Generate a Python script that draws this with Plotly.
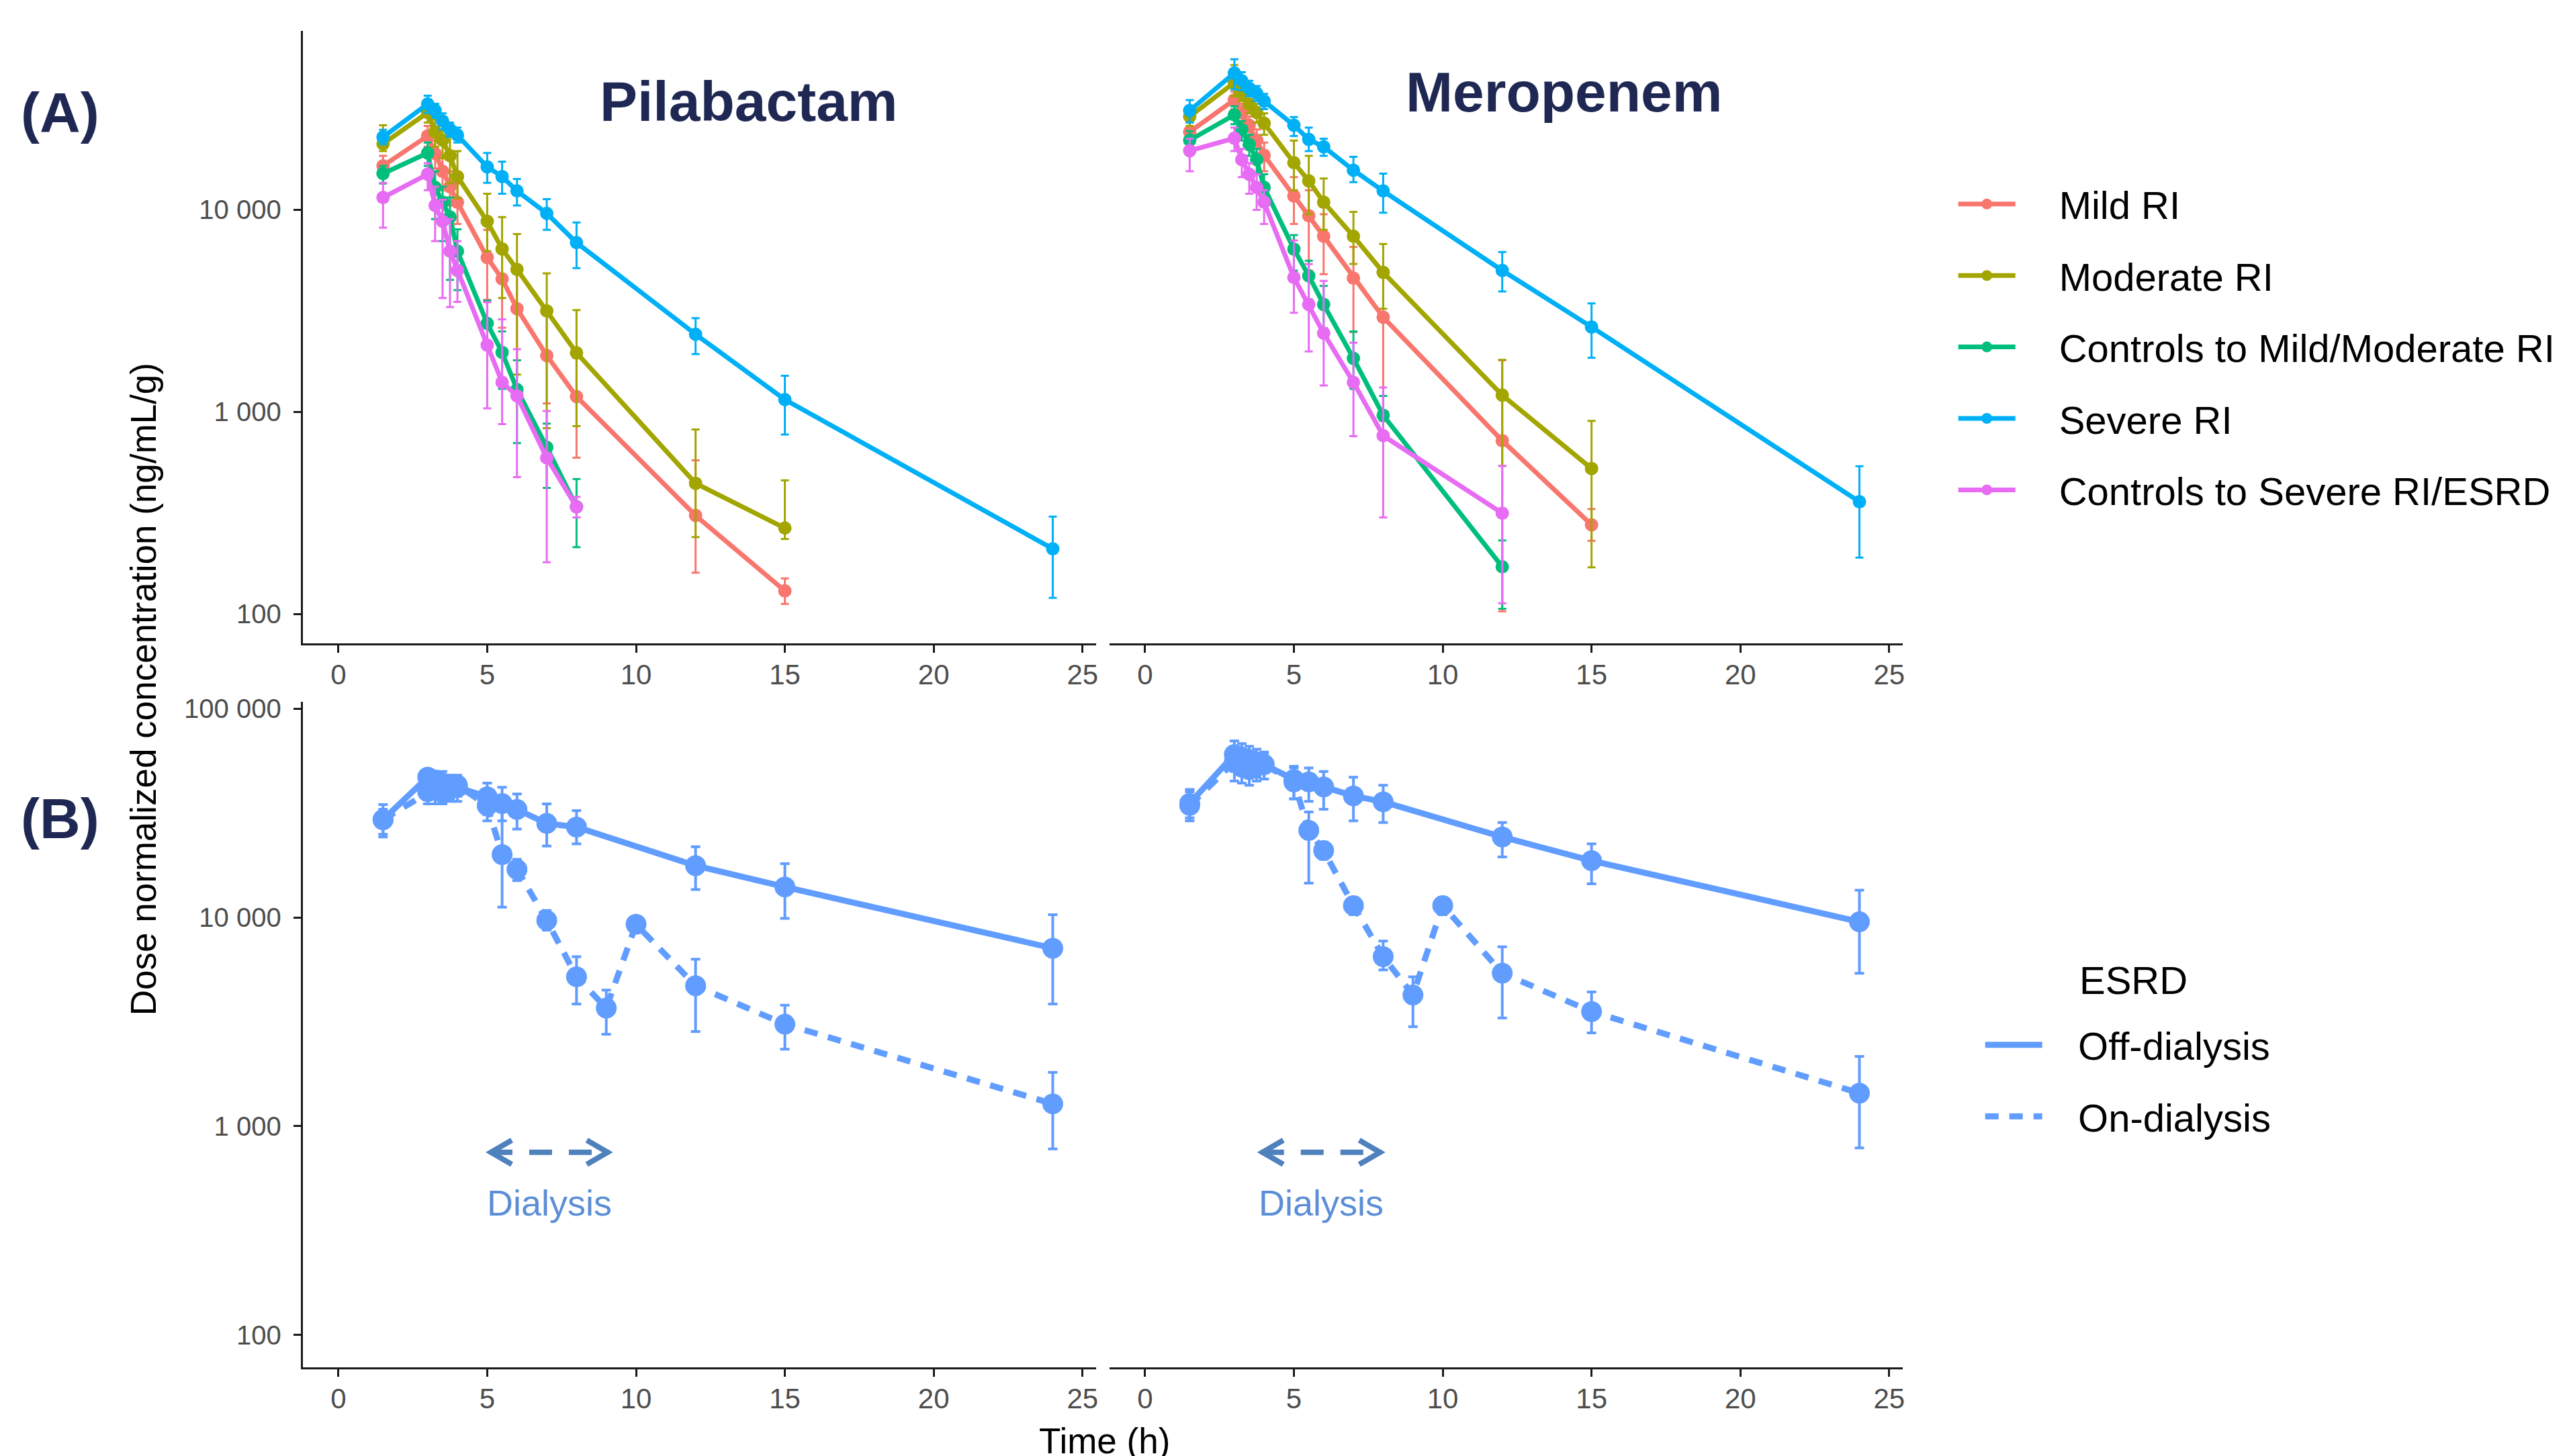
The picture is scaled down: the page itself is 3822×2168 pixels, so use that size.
import math
import plotly.graph_objects as go

# ---------------- data ----------------
TIME_A = [1.5, 3, 3.25, 3.5, 3.75, 4, 5, 5.5, 6, 7, 8, 12, 15, 24]
GROUPS = ["Mild RI", "Moderate RI", "Controls to Mild/Moderate RI", "Severe RI",
          "Controls to Severe RI/ESRD"]
COLORS = ["#F8766D", "#A3A500", "#00BF7D", "#00B0F6", "#E76BF3"]

# Pilabactam (panel A, left): mean, upper and lower error limits
PILA_MILD = [16500, 23200, 19000, 15500, 13000, 10900, 5810, 4550, 3240, 1900, 1190, 307, 130, None]
PILA_MILD_HI = [18500, 26000, 22000, 18500, 15500, 13500, 7960, 6560, 5100, 3000, 1850, 575, 150, None]
PILA_MILD_LO = [14500, 20500, 16000, 12500, 10500, 8500, 3580, 2610, 1800, 1100, 593, 160, 112, None]
PILA_MOD = [21200, 30300, 24300, 22100, 18500, 14600, 8770, 6400, 5070, 3160, 1960, 443, 266, None]
PILA_MOD_HI = [26200, 34000, 28000, 26000, 23000, 19500, 12000, 9210, 7580, 4850, 3190, 818, 458, None]
PILA_MOD_LO = [19500, 27000, 20500, 18000, 13500, 11400, 6240, 3660, 1530, 830, 850, 240, 235, None]
PILA_CTRL_MM = [15100, 19100, 12900, 10900, 9210, 6240, 2740, 1970, 1290, 668, 339, None, None, None]
PILA_CTRL_MM_HI = [16500, 21500, 15500, 13000, 11500, 8000, 3550, 2500, 1800, 875, 465, None, None, None]
PILA_CTRL_MM_LO = [13500, 16500, 9000, 7000, 4500, 4000, 2050, 1300, 700, 420, 214, None, None, None]
PILA_SEV = [22900, 33400, 31000, 27500, 25000, 23400, 16300, 14600, 12400, 9600, 6880, 2420, 1150, 210]
PILA_SEV_HI = [24900, 36700, 33500, 30000, 27000, 25500, 19100, 17300, 14200, 11300, 8650, 2910, 1510, 303]
PILA_SEV_LO = [21100, 30200, 28500, 25000, 23000, 21500, 13600, 12000, 10500, 7960, 5140, 1930, 773, 120]
PILA_CTRL_SEV = [11500, 15000, 10500, 8770, 6240, 5010, 2140, 1400, 1200, 592, 339, None, None, None]
PILA_CTRL_SEV_HI = [13600, 17000, 13000, 11200, 9000, 7000, 3490, 2870, 2040, 1010, 380, None, None, None]
PILA_CTRL_SEV_LO = [8150, 12500, 7000, 3660, 3300, 3500, 1040, 870, 475, 180, 300, None, None, None]

# Meropenem (panel A, right)
MERO_MILD = [24300, 35000, 30300, 26200, 22100, 18600, 11700, 9340, 7400, 4590, 2940, 720, 276, None]
MERO_MILD_HI = [27000, 38500, 33500, 29000, 25000, 21500, 14500, 12500, 9500, 6550, 5000, 1800, 330, None]
MERO_MILD_LO = [21500, 31500, 27000, 23000, 19000, 15500, 8500, 5000, 4800, 2480, 900, 103, 230, None]
MERO_MOD = [29000, 42600, 37700, 33300, 30300, 26800, 17100, 13900, 10900, 7400, 4900, 1210, 524, None]
MERO_MOD_HI = [32500, 52000, 41000, 36500, 33500, 30000, 22000, 18500, 14300, 9760, 6780, 1810, 901, None]
MERO_MOD_LO = [26000, 36500, 34500, 30000, 27000, 23500, 12500, 9500, 7960, 5400, 3240, 540, 170, None]
MERO_CTRL_MM = [22100, 29500, 24900, 21000, 17700, 12900, 6390, 4710, 3400, 1840, 961, 171, None, None]
MERO_CTRL_MM_HI = [24500, 32500, 27500, 23500, 20000, 15000, 7500, 5600, 4200, 2500, 1200, 231, None, None]
MERO_CTRL_MM_LO = [19500, 26500, 22000, 18500, 15000, 10500, 5000, 3600, 2600, 1300, 750, 106, None, None]
MERO_SEV = [31000, 47500, 43500, 39900, 37700, 34500, 26200, 22300, 20500, 15700, 12400, 5010, 2630, 359]
MERO_SEV_HI = [34900, 55600, 48000, 43500, 41000, 37500, 28800, 25500, 22500, 18300, 15100, 6180, 3440, 538]
MERO_SEV_LO = [27000, 39500, 39000, 36500, 34500, 31500, 23200, 19500, 18500, 13700, 9670, 3940, 1850, 190]
MERO_CTRL_SEV = [19600, 22600, 17700, 15000, 12900, 10900, 4620, 3400, 2450, 1400, 762, 315, None, None]
MERO_CTRL_SEV_HI = [22500, 25500, 20000, 17000, 15000, 12500, 7050, 5390, 4450, 2200, 1320, 540, None, None]
MERO_CTRL_SEV_LO = [15500, 19500, 14500, 12000, 10000, 8500, 3090, 1990, 1350, 758, 300, 113, None, None]

# ESRD (panel B)
TIME_OFF = [1.5, 3, 3.25, 3.5, 3.75, 4, 5, 5.5, 6, 7, 8, 12, 15, 24]
TIME_ON = [1.5, 3, 3.25, 3.5, 3.75, 4, 5, 5.5, 6, 7, 8, 9, 10, 12, 15, 24]
ESRD_TITLE = "ESRD"
ESRD_LABELS = ["Off-dialysis", "On-dialysis"]
ESRD_COLOR = "#619CFF"

PILA_OFF = [29400, 47000, 45500, 44000, 43000, 42000, 37800, 35100, 32900, 28200, 27100, 17700, 14000, 7120]
PILA_OFF_HI = [34700, 50000, 50000, 50000, 48000, 47000, 44000, 42000, 39000, 35000, 32500, 21800, 18100, 10300]
PILA_OFF_LO = [24300, 40000, 39000, 38000, 37000, 36000, 31000, 29000, 26500, 22000, 22500, 13600, 9900, 3850]
PILA_ON = [29400, 40000, 41500, 39500, 41000, 43000, 34300, 20000, 17000, 9680, 5200, 3680, 9270, 4710, 3080, 1280]
PILA_ON_HI = [33000, 44000, 46000, 44000, 46000, 48000, 40000, 34000, 19000, 10800, 6490, 4490, 10000, 6310, 3800, 1810]
PILA_ON_LO = [25000, 35000, 35000, 35000, 36000, 38000, 29000, 11200, 15000, 8700, 3850, 2760, 8500, 2840, 2340, 778]

MERO_OFF = [35200, 60300, 58500, 57000, 55500, 54000, 45800, 44600, 42200, 38200, 35800, 24300, 18700, 9530]
MERO_OFF_HI = [41000, 70000, 68000, 66000, 64000, 62000, 53000, 52000, 50000, 47000, 43000, 28500, 22500, 13500]
MERO_OFF_LO = [30000, 50000, 49000, 48000, 47000, 46000, 37000, 36000, 33000, 29000, 28500, 19500, 14500, 5400]
MERO_ON = [34400, 55500, 52500, 51000, 53000, 54000, 44600, 26100, 20900, 11400, 6490, 4250, 11400, 5410, 3540, 1440]
MERO_ON_HI = [40000, 64000, 60000, 58000, 60000, 61000, 52000, 32000, 23000, 12500, 7700, 5200, 12500, 7240, 4400, 2160]
MERO_ON_LO = [29000, 45000, 44000, 43000, 45000, 46000, 37000, 14600, 19000, 10300, 5600, 3000, 10300, 3300, 2800, 787]

# dialysis window annotation (time in h, concentration level)
DIALYSIS_PILA = [5.08, 9.09]
DIALYSIS_MERO = [3.90, 7.94]
DIALYSIS_ARROW_LEVEL = 750
DIALYSIS_TEXT_LEVEL = 431

X_TICKS = [0, 5, 10, 15, 20, 25]
Y_TICKS_A = [100, 1000, 10000]
Y_TICKS_B = [100, 1000, 10000, 100000]
Y_TICKTEXT_A = ["100", "1 000", "10 000"]
Y_TICKTEXT_B = ["100", "1 000", "10 000", "100 000"]

# ---------------- styling ----------------
FONT = "Arial, Liberation Sans, sans-serif"
TITLE_COLOR = "#1F2853"
TICK_COLOR = "#4D4D4D"
ARROW_COLOR = "#4F81BD"
DIAL_TEXT_COLOR = "#5B8ED6"
W, H = 3822, 2168
PAD1 = "   \u2009"   # gap between legend key and label
PAD2 = "   "


def errs(mean, hi, lo):
    plus = [None if m is None else h - m for m, h in zip(mean, hi)]
    minus = [None if m is None else m - l for m, l in zip(mean, lo)]
    return plus, minus


fig = go.Figure()

pila_sets = [(PILA_MILD, PILA_MILD_HI, PILA_MILD_LO), (PILA_MOD, PILA_MOD_HI, PILA_MOD_LO),
             (PILA_CTRL_MM, PILA_CTRL_MM_HI, PILA_CTRL_MM_LO), (PILA_SEV, PILA_SEV_HI, PILA_SEV_LO),
             (PILA_CTRL_SEV, PILA_CTRL_SEV_HI, PILA_CTRL_SEV_LO)]
mero_sets = [(MERO_MILD, MERO_MILD_HI, MERO_MILD_LO), (MERO_MOD, MERO_MOD_HI, MERO_MOD_LO),
             (MERO_CTRL_MM, MERO_CTRL_MM_HI, MERO_CTRL_MM_LO), (MERO_SEV, MERO_SEV_HI, MERO_SEV_LO),
             (MERO_CTRL_SEV, MERO_CTRL_SEV_HI, MERO_CTRL_SEV_LO)]

for sets, xa, ya, show in [(pila_sets, "x", "y", True), (mero_sets, "x2", "y2", False)]:
    for i, (m, hi, lo) in enumerate(sets):
        plus, minus = errs(m, hi, lo)
        fig.add_trace(go.Scatter(
            x=TIME_A, y=m, mode="lines+markers", name=PAD1 + GROUPS[i],
            legendgroup=GROUPS[i], showlegend=show, legend="legend",
            line=dict(color=COLORS[i], width=7),
            marker=dict(color=COLORS[i], size=20),
            error_y=dict(type="data", symmetric=False, array=plus, arrayminus=minus,
                         color=COLORS[i], thickness=3, width=6),
            xaxis=xa, yaxis=ya))

esrd_sets = [
    ("x3", "y3", True, [(TIME_OFF, PILA_OFF, PILA_OFF_HI, PILA_OFF_LO), (TIME_ON, PILA_ON, PILA_ON_HI, PILA_ON_LO)]),
    ("x4", "y4", False, [(TIME_OFF, MERO_OFF, MERO_OFF_HI, MERO_OFF_LO), (TIME_ON, MERO_ON, MERO_ON_HI, MERO_ON_LO)]),
]
DASHES = ["solid", "20px,16px"]
for xa, ya, show, sets in esrd_sets:
    for j, (t, m, hi, lo) in enumerate(sets):
        fig.add_trace(go.Scatter(
            x=t, y=m, mode="lines", name=PAD2 + ESRD_LABELS[j], legendgroup=ESRD_LABELS[j],
            showlegend=show, legend="legend2",
            line=dict(color=ESRD_COLOR, width=9, dash=DASHES[j]),
            xaxis=xa, yaxis=ya))
    for j, (t, m, hi, lo) in enumerate(sets):
        plus, minus = errs(m, hi, lo)
        fig.add_trace(go.Scatter(
            x=t, y=m, mode="markers", showlegend=False, legendgroup=ESRD_LABELS[j],
            marker=dict(color=ESRD_COLOR, size=31),
            error_y=dict(type="data", symmetric=False, array=plus, arrayminus=minus,
                         color=ESRD_COLOR, thickness=4, width=7),
            xaxis=xa, yaxis=ya))

# ---------------- axes ----------------
XR = [-1.2, 25.45]
DOM_L = [451 / W, 1633 / W]
DOM_R = [1653 / W, 2835 / W]
DOM_A = [1 - 951 / H, 1 - 34 / H]
DOM_B = [1 - 2035 / H, 1 - 1039 / H]
YR_A = [1.855, 4.886]
YR_B = [1.846, 5.032]

ytickfont = dict(family=FONT, size=40, color=TICK_COLOR)
xtickfont = dict(family=FONT, size=42, color=TICK_COLOR)


def xaxis(dom, anchor):
    return dict(domain=dom, range=XR, anchor=anchor, tickvals=X_TICKS, showline=True,
                linecolor="#1A1A1A", linewidth=3, ticks="outside", ticklen=11, tickwidth=3,
                tickcolor="#1A1A1A", showgrid=False, zeroline=False, tickfont=xtickfont,
                ticklabelstandoff=-3)


def yaxis(dom, anchor, rng, vals, text, show):
    return dict(domain=dom, range=rng, type="log", anchor=anchor, tickvals=vals, ticktext=text,
                showline=show, showticklabels=show, linecolor="#1A1A1A", linewidth=3,
                ticks="outside" if show else "", ticklen=11, tickwidth=3, tickcolor="#1A1A1A",
                showgrid=False, zeroline=False, tickfont=ytickfont, ticklabelstandoff=10)


layout = dict(
    width=W, height=H, paper_bgcolor="white", plot_bgcolor="white",
    margin=dict(l=0, r=0, t=0, b=0),
    font=dict(family=FONT, color="black"),
    xaxis=xaxis(DOM_L, "y"), xaxis2=xaxis(DOM_R, "y2"),
    xaxis3=xaxis(DOM_L, "y3"), xaxis4=xaxis(DOM_R, "y4"),
    yaxis=yaxis(DOM_A, "x", YR_A, Y_TICKS_A, Y_TICKTEXT_A, True),
    yaxis2=yaxis(DOM_A, "x2", YR_A, Y_TICKS_A, Y_TICKTEXT_A, False),
    yaxis3=yaxis(DOM_B, "x3", YR_B, Y_TICKS_B, Y_TICKTEXT_B, True),
    yaxis4=yaxis(DOM_B, "x4", YR_B, Y_TICKS_B, Y_TICKTEXT_B, False),
    legend=dict(x=2913 / W, y=1 - 249 / H, xanchor="left", yanchor="top",
                font=dict(family=FONT, size=58, color="black"), tracegroupgap=28,
                itemwidth=85, bgcolor="rgba(0,0,0,0)"),
    legend2=dict(x=2953 / W, y=1 - 1508 / H, xanchor="left", yanchor="top",
                 font=dict(family=FONT, size=58, color="black"), tracegroupgap=28,
                 itemwidth=85, bgcolor="rgba(0,0,0,0)"),
)
fig.update_layout(**layout)

annotations = [
    dict(text="<b>Pilabactam</b>", x=1116 / W, y=1 - 140 / H, font=dict(size=84, color=TITLE_COLOR)),
    dict(text="<b>Meropenem</b>", x=2330 / W, y=1 - 126 / H, font=dict(size=84, color=TITLE_COLOR)),
    dict(text="<b>(A)</b>", x=90 / W, y=1 - 157 / H, font=dict(size=84, color=TITLE_COLOR)),
    dict(text="<b>(B)</b>", x=90 / W, y=1 - 1214 / H, font=dict(size=84, color=TITLE_COLOR)),
    dict(text="Dose normalized concentration (ng/mL/g)", x=214 / W, y=1 - 1020 / H, textangle=-90,
         font=dict(size=53, color="black")),
    dict(text="Time (h)", x=1646 / W, y=1 - 2114 / H, yanchor="top", font=dict(size=53, color="black")),
    dict(text=ESRD_TITLE, x=3096 / W, y=1 - 1456 / H, xanchor="left", font=dict(size=58, color="black")),
]
for a in annotations:
    a.setdefault("xref", "paper")
    a.setdefault("yref", "paper")
    a.setdefault("showarrow", False)
    a.setdefault("xanchor", "center")
    a.setdefault("yanchor", "middle")
    a["font"]["family"] = FONT
    fig.add_annotation(**a)

ya_text = math.log10(DIALYSIS_TEXT_LEVEL)
for (x0, x1), xr, yr in [(DIALYSIS_PILA, "x3", "y3"), (DIALYSIS_MERO, "x4", "y4")]:
    # shapes on log axes take data values
    fig.add_shape(type="line", xref=xr, yref=yr, x0=x0, x1=x1,
                  y0=DIALYSIS_ARROW_LEVEL, y1=DIALYSIS_ARROW_LEVEL,
                  line=dict(color=ARROW_COLOR, width=8, dash="34px,25px"))
    fig.add_shape(type="path", xref=xr, yref=yr, xsizemode="pixel", ysizemode="pixel",
                  xanchor=x0, yanchor=DIALYSIS_ARROW_LEVEL, path="M 33 -18 L 2 0 L 33 18",
                  line=dict(color=ARROW_COLOR, width=8))
    fig.add_shape(type="path", xref=xr, yref=yr, xsizemode="pixel", ysizemode="pixel",
                  xanchor=x1, yanchor=DIALYSIS_ARROW_LEVEL, path="M -33 -18 L -2 0 L -33 18",
                  line=dict(color=ARROW_COLOR, width=8))
    fig.add_annotation(text="Dialysis", xref=xr, yref=yr, x=(x0 + x1) / 2, y=ya_text,
                       showarrow=False, font=dict(family=FONT, size=54, color=DIAL_TEXT_COLOR))

fig.write_html("out.html", config={"displayModeBar": False},
               post_script="document.body.style.margin='0';document.body.style.overflow='hidden';")
